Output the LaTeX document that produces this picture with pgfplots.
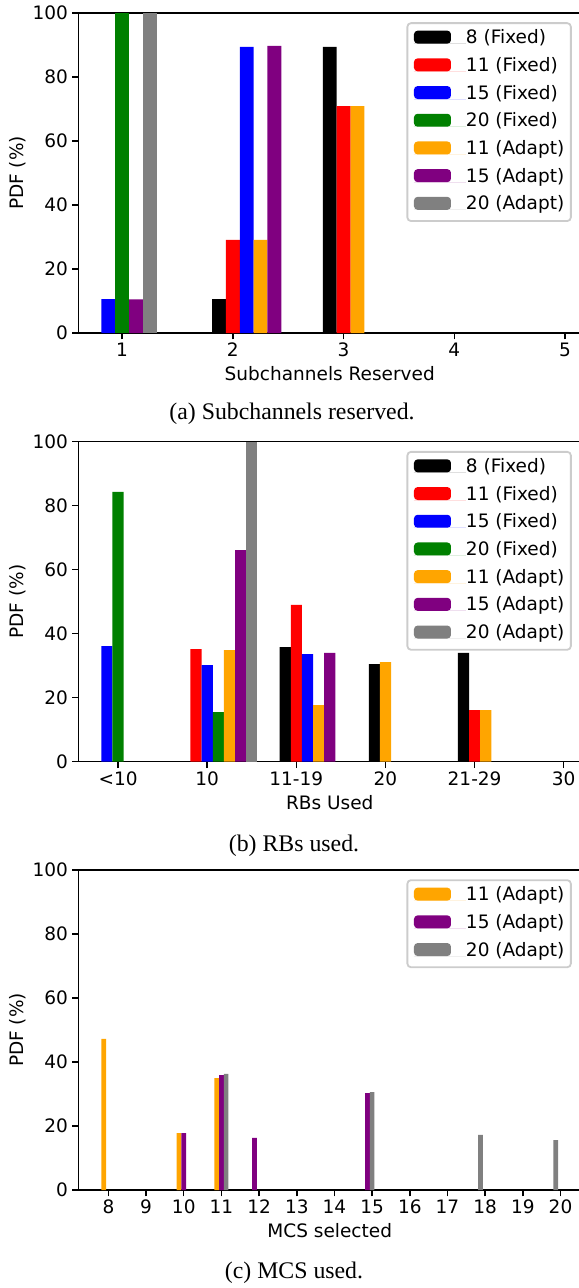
\documentclass[border=0pt]{standalone}
\usepackage{pgfplots}
\pgfplotsset{compat=1.18}
\usepackage{fontspec}
\setmainfont{DejaVu Sans}
\newfontfamily\capfont{Liberation Serif}
\definecolor{mplred}{HTML}{FF0000}
\definecolor{mplblue}{HTML}{0000FF}
\definecolor{mplgreen}{HTML}{008000}
\definecolor{mplorange}{HTML}{FFA500}
\definecolor{mplpurple}{HTML}{800080}
\definecolor{mplgray}{HTML}{808080}
\newcommand\mplfont{\fontsize{9.25pt}{11pt}\selectfont}
\newcommand\capsize{\fontsize{11.9pt}{14pt}\selectfont}
\pgfplotsset{
  mybar/.style={
    scale only axis, width=251.25pt, height=160pt,
    anchor=south west,
    ymin=0, ymax=100, ytick={0,20,40,60,80,100},
    axis line style={line width=0.74pt, black},
    every tick/.style={line width=0.74pt, black},
    major tick length=3.24pt,
    tick align=outside,
    xtick pos=bottom, ytick pos=left,
    tick label style={font=\mplfont},
    /pgf/number format/assume math mode=true,
    ylabel={PDF (\%)},
    every axis y label/.style={at={(axis description cs:0,0.5)}, xshift=-30.5pt, rotate=90, anchor=center, font=\mplfont},
    every axis x label/.style={at={(axis description cs:0.5,0)}, yshift=-23.75pt, anchor=base, font=\mplfont},
    xticklabel style={anchor=base, inner sep=0pt, yshift=-8.5pt},
    yticklabel style={anchor=east, inner sep=0pt, xshift=-1.86pt},
    legend style={at={(axis description cs:1,1)}, xshift=-4.625pt, yshift=-4.625pt, anchor=north east,
      draw=black!20, line width=0.9pt, rounded corners=1.8pt, fill=white,
      inner sep=3.3pt, row sep=4.6pt, font=\mplfont,
      cells={anchor=base west},
      nodes={inner sep=0pt, text height=6.94pt, text depth=2.31pt}},
    legend image code/.code={\fill[##1] (0pt,0pt) rectangle (18.5pt,6.475pt); \path (0pt,0pt) -- (26pt,0pt);},
  },
  bb/.style={ybar, bar width=0.125, bar shift=0pt, draw=none, fill=#1},
}
\begin{document}
\begin{tikzpicture}
\useasboundingbox (0,0) rectangle (289pt,-644pt);
% (a)
\begin{axis}[mybar, at={(39.25pt,-166.5pt)}, xmin=0.60625, xmax=5.14375, xtick={1,2,3,4,5},
  xlabel={Subchannels Reserved}]
\addplot[bb=black] coordinates {(1.875,10.6) (2.875,89.4)};
\addlegendentry{8 (Fixed)}
\addplot[bb=mplred] coordinates {(2,29.1) (3,70.9)};
\addlegendentry{11 (Fixed)}
\addplot[bb=mplblue] coordinates {(0.875,10.6) (2.125,89.4)};
\addlegendentry{15 (Fixed)}
\addplot[bb=mplgreen] coordinates {(1,100)};
\addlegendentry{20 (Fixed)}
\addplot[bb=mplorange] coordinates {(2.25,29.1) (3.125,70.9)};
\addlegendentry{11 (Adapt)}
\addplot[bb=mplpurple] coordinates {(1.125,10.5) (2.375,89.7)};
\addlegendentry{15 (Adapt)}
\addplot[bb=mplgray] coordinates {(1.25,100)};
\addlegendentry{20 (Adapt)}
\end{axis}
% (b)
\begin{axis}[mybar, at={(39.25pt,-380.85pt)}, xmin=-0.44375, xmax=5.19375, xtick={0,1,2,3,4,5},
  xticklabels={<10,10,11-19,20,21-29,30}, xlabel={RBs Used}]
\addplot[bb=black] coordinates {(1.875,35.8) (2.875,30.5) (3.875,34.0)};
\addlegendentry{8 (Fixed)}
\addplot[bb=mplred] coordinates {(0.875,35.2) (2,49.0) (4,16.1)};
\addlegendentry{11 (Fixed)}
\addplot[bb=mplblue] coordinates {(-0.125,36.1) (1,30.2) (2.125,33.6)};
\addlegendentry{15 (Fixed)}
\addplot[bb=mplgreen] coordinates {(0,84.3) (1.125,15.5)};
\addlegendentry{20 (Fixed)}
\addplot[bb=mplorange] coordinates {(1.25,34.9) (2.25,17.7) (3,31.1) (4.125,16.1)};
\addlegendentry{11 (Adapt)}
\addplot[bb=mplpurple] coordinates {(1.375,66.1) (2.375,34.0)};
\addlegendentry{15 (Adapt)}
\addplot[bb=mplgray] coordinates {(1.5,100)};
\addlegendentry{20 (Adapt)}
\end{axis}
% (c)
\begin{axis}[mybar, at={(39.25pt,-595pt)}, xmin=7.20625, xmax=20.54375, xtick={8,9,...,20},
  xlabel={MCS selected}]
\addplot[bb=mplorange] coordinates {(7.875,47.2) (9.875,17.8) (10.875,35.0)};
\addlegendentry{11 (Adapt)}
\addplot[bb=mplpurple] coordinates {(10,17.8) (11,35.9) (11.875,16.3) (14.875,30.3)};
\addlegendentry{15 (Adapt)}
\addplot[bb=mplgray] coordinates {(11.125,36.3) (15,30.6) (17.875,17.2) (19.875,15.6)};
\addlegendentry{20 (Adapt)}
\end{axis}
\node[anchor=base] at (146pt,-210pt) {\capfont\capsize (a) Subchannels reserved.};
\node[anchor=base] at (147pt,-425.5pt) {\capfont\capsize (b) RBs used.};
\node[anchor=base] at (147pt,-639pt) {\capfont\capsize (c) MCS used.};
\end{tikzpicture}
\end{document}
